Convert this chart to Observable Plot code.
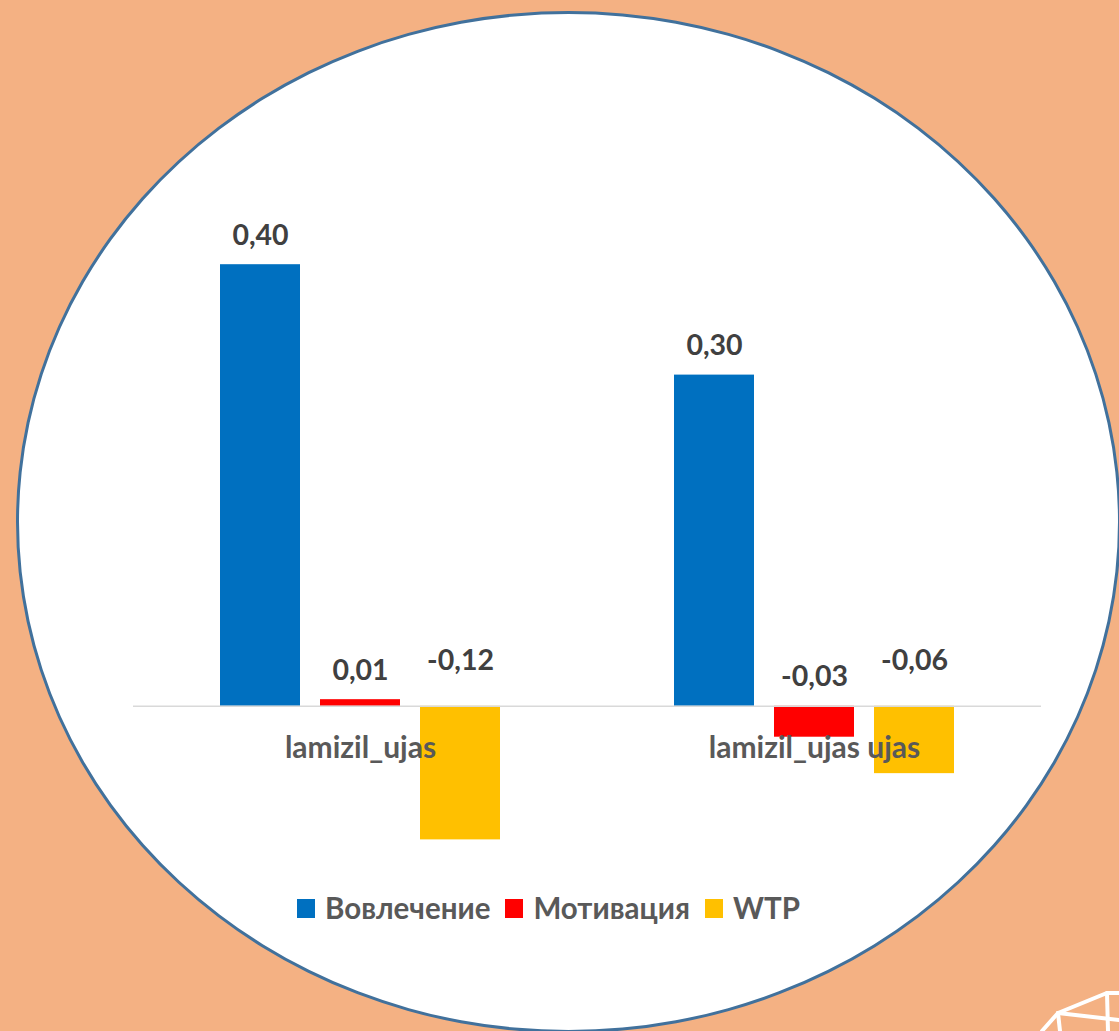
<!DOCTYPE html>
<html>
<head>
<meta charset="utf-8">
<script src="https://cdn.jsdelivr.net/npm/d3@7"></script>
<script src="https://cdn.jsdelivr.net/npm/@observablehq/plot@0.6"></script>
<style>
  html, body { margin: 0; padding: 0; background: #F4B183; width: 1119px; height: 1031px; overflow: hidden; }
  #stage { position: relative; width: 1119px; height: 1031px; }
  #ellipse { position: absolute; left: 16px; top: 11px; width: 1105px; height: 1022px; box-sizing: border-box;
             border: 3px solid #41719C; border-radius: 50%; background: #ffffff; }
  #chart { position: absolute; left: 0; top: 0; }
  #legend { position: absolute; left: 297px; top: 893px; }
  #logo { position: absolute; left: 1030px; top: 980px; }
  .lg-swatches { font-family: Lato, "Open Sans", sans-serif !important; font-size: 29.5px !important;
                 font-weight: bold !important; color: #595959 !important; line-height: 30px !important; min-height: 30px !important; }
  .lg-swatch { margin-right: 15px !important; }
  .lg-swatch > svg { margin-right: 10px !important; }
</style>
</head>
<body>
<div id="stage">
  <div id="ellipse"></div>
  <svg id="logo" width="89" height="51" viewBox="0 0 89 51">
    <g stroke="#ffffff" stroke-width="4" fill="none" stroke-linecap="round">
      <polyline points="28,33 77,13 89,13"/>
      <line x1="77" y1="13" x2="78" y2="51"/>
      <line x1="28" y1="33" x2="12" y2="51"/>
      <line x1="28" y1="33" x2="30" y2="51"/>
      <line x1="28" y1="33" x2="89" y2="40"/>
    </g>
  </svg>
  <div id="chart"></div>
  <div id="legend"></div>
</div>
<script>
const categories = ["lamizil_ujas", "lamizil_ujas ujas"];
const seriesNames = ["Вовлечение", "Мотивация", "WTP"];
const seriesColors = ["#0070C0", "#FF0000", "#FFC000"];
const vovlechenie = [0.40, 0.30];
const motivatsiya = [0.006, -0.028];
const wtp = [-0.121, -0.061];

const seriesValues = [vovlechenie, motivatsiya, wtp];
const rows = categories.flatMap((c, i) =>
  seriesNames.map((s, j) => ({category: c, series: s, value: seriesValues[j][i]}))
);

const locale = d3.formatLocale({decimal: ",", thousands: " ", grouping: [3], currency: ["", ""], minus: "-"});
const fmt = locale.format(".2f");
const font = "Lato, 'Open Sans', sans-serif";

const chart = Plot.plot({
  width: 1119,
  height: 900,
  marginLeft: 133,
  marginRight: 78,
  marginTop: 209,
  marginBottom: 28.6,
  style: {background: "transparent", fontFamily: font, overflow: "visible"},
  fx: {domain: categories, padding: 0, axis: null},
  x: {domain: seriesNames, paddingInner: 0.2, paddingOuter: 0.87, axis: null},
  y: {domain: [-0.15, 0.45], axis: null},
  color: {domain: seriesNames, range: seriesColors},
  marks: [
    Plot.barY(rows, {fx: "category", x: "series", y: "value", fill: "series"}),
    Plot.ruleY([0], {stroke: "#D9D9D9", strokeWidth: 1.5}),
    Plot.text(rows.filter(d => d.series !== "WTP"), {
      fx: "category", x: "series", y: d => Math.max(d.value, 0), text: d => fmt(d.value),
      dy: -20, lineAnchor: "bottom", fontSize: 28.5, fontWeight: "bold", fill: "#404040"
    }),
    Plot.text(rows.filter(d => d.series === "WTP"), {
      fx: "category", x: "series", y: 0, text: d => fmt(d.value),
      dy: -36, lineAnchor: "bottom", fontSize: 28.5, fontWeight: "bold", fill: "#404040"
    }),
    Plot.text(categories, {
      fx: d => d, y: 0, text: d => d, dy: 52, lineAnchor: "bottom",
      fontSize: 30, fontWeight: "bold", fill: "#595959"
    })
  ]
});
document.getElementById("chart").appendChild(chart);

const legend = Plot.legend({
  color: {domain: seriesNames, range: seriesColors},
  legend: "swatches",
  swatchWidth: 18,
  swatchHeight: 19,
  marginLeft: 0,
  className: "lg"
});
document.getElementById("legend").appendChild(legend);
</script>
</body>
</html>
